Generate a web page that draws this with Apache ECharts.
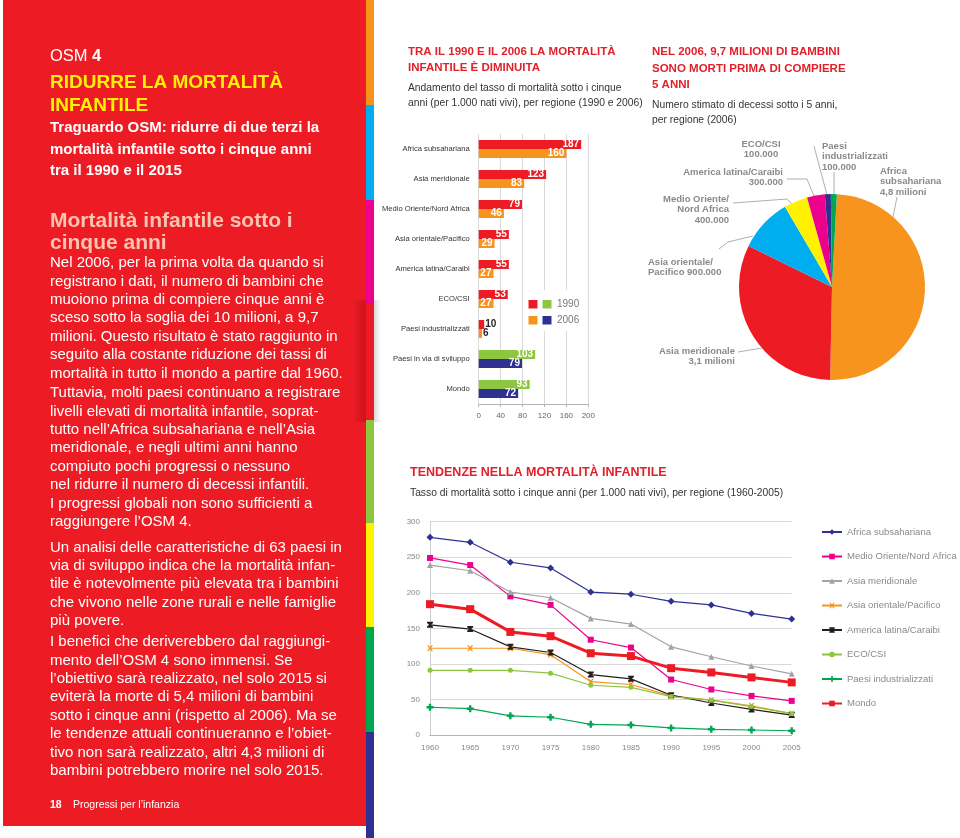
<!DOCTYPE html>
<html><head><meta charset="utf-8">
<script src="https://cdn.jsdelivr.net/npm/echarts/dist/echarts.min.js"></script>
<style>html,body{margin:0;padding:0;background:#fff}#c{width:960px;height:838px}</style>
</head><body><div id="c"></div>
<script>
// ---------- DATA ----------
const barCategories = ['Africa subsahariana','Asia meridionale','Medio Oriente/Nord Africa','Asia orientale/Pacifico','America latina/Caraibi','ECO/CSI','Paesi industrializzati','Paesi in via di sviluppo','Mondo'];
const rate1990 = [187,123,79,55,55,53,10,103,93];
const rate2006 = [160,83,46,29,27,27,6,79,72];
const barTicks = [0,40,80,120,160,200];

const pieNames = ['Africa subsahariana','Asia meridionale','Asia orientale/Pacifico','Medio Oriente/Nord Africa','America latina/Caraibi','ECO/CSI','Paesi industrializzati'];
const pieDeaths = [4800000,3100000,900000,400000,300000,100000,100000];
const pieLabels = ['Africa\nsubsahariana\n4,8 milioni','Asia meridionale\n3,1 milioni','Asia orientale/\nPacifico 900.000','Medio Oriente/\nNord Africa\n400.000','America latina/Caraibi\n300.000','ECO/CSI\n100.000','Paesi\nindustrializzati\n100.000'];

const years = ['1960','1965','1970','1975','1980','1985','1990','1995','2000','2005'];
const trendNames = ['Africa subsahariana','Medio Oriente/Nord Africa','Asia meridionale','Asia orientale/Pacifico','America latina/Caraibi','ECO/CSI','Paesi industrializzati','Mondo'];
const africaSub = [278,271,243,235,201,198,188,183,171,163];
const medioOriente = [249,239,195,183,134,123,78,64,55,48];
const asiaMerid = [239,231,201,193,164,156,124,110,97,86];
const asiaOrient = [122,122,122,113,75,71,55,49,41,30];
const americaLat = [155,149,124,116,85,79,56,45,36,28];
const ecoCsi = [91,91,91,87,70,67,54,49,40,30];
const paesiInd = [39,37,27,25,15,14,10,8,7,6];
const mondo = [184,177,145,139,115,111,94,88,81,74];
const yTicks = [0,50,100,150,200,250,300];

// ---------- STYLE ----------
const SANS = '"Liberation Sans", Arial, Helvetica, sans-serif';
const NARROW = '"Liberation Sans Narrow","Arial Narrow","Liberation Sans",sans-serif';
const RED='#ed1c24', ORANGE='#f7941d', BLUE='#00aeef', YELLOW='#fff200', MAGENTA='#ec008c', NAVY='#2e3192', DGREEN='#00a651', LGREEN='#8dc63f', BLACK='#231f20', GREY='#a3a3a3';
const HEAD='#e2202a';

function T(x, firstCenter, lines, font, fill, lh, extra){
  lh = lh || 18;
  return {type:'text', x:x, y:firstCenter - lh/2, z:100, silent:true,
    style:Object.assign({text:lines.join('\n'), font:font, fill:fill, align:'left', verticalAlign:'top', lineHeight:lh}, extra||{})};
}
function R(x,y,w,h,fill,z){ return {type:'rect', shape:{x:x,y:y,width:w,height:h}, style:{fill:fill}, z:z==null?1:z, silent:true}; }

const graphics = [
  R(3,0,363,826,RED,0),
  R(366,0,8,105,ORANGE), R(366,105,8,95,BLUE), R(366,200,8,103,MAGENTA), R(366,303,8,117,RED),
  R(366,420,8,103,LGREEN), R(366,523,8,104,YELLOW), R(366,627,8,105,DGREEN), R(366,732,8,106,NAVY),
  {type:'rect', shape:{x:352,y:300,width:14,height:122}, z:2, silent:true,
    style:{fill:{type:'linear',x:0,y:0,x2:1,y2:0,colorStops:[{offset:0,color:'rgba(120,0,0,0)'},{offset:1,color:'rgba(120,0,0,0.28)'}]}}},
  {type:'rect', shape:{x:374,y:300,width:7,height:122}, z:2, silent:true,
    style:{fill:{type:'linear',x:0,y:0,x2:1,y2:0,colorStops:[{offset:0,color:'rgba(0,0,0,0.15)'},{offset:1,color:'rgba(0,0,0,0)'}]}}},
  // left panel
  T(50,56.5,['OSM'],'16.5px '+SANS,'#fff',20),
  T(92,56.5,['4'],'bold 16.5px '+SANS,'#fff',20),
  T(50,83,['RIDURRE LA MORTALITÀ','INFANTILE'],'bold 19px '+SANS,YELLOW,23),
  T(50,128,['Traguardo OSM: ridurre di due terzi la','mortalità infantile sotto i cinque anni','tra il 1990 e il 2015'],'bold 15px '+SANS,'#fff',21.5),
  T(50,221,['Mortalità infantile sotto i','cinque anni'],'bold 21px '+SANS,'#f9c5b0',22.5),
  T(50,263,['Nel 2006, per la prima volta da quando si','registrano i dati, il numero di bambini che','muoiono prima di compiere cinque anni è','sceso sotto la soglia dei 10 milioni, a 9,7','milioni. Questo risultato è stato raggiunto in','seguito alla costante riduzione dei tassi di','mortalità in tutto il mondo a partire dal 1960.'],'15px '+SANS,'#fff',18.4),
  T(50,393,['Tuttavia, molti paesi continuano a registrare','livelli elevati di mortalità infantile, soprat-','tutto nell’Africa subsahariana e nell’Asia','meridionale, e negli ultimi anni hanno','compiuto pochi progressi o nessuno','nel ridurre il numero di decessi infantili.','I progressi globali non sono sufficienti a','raggiungere l’OSM 4.'],'15px '+SANS,'#fff',18.4),
  T(50,547.5,['Un analisi delle caratteristiche di 63 paesi in','via di sviluppo indica che la mortalità infan-','tile è notevolmente più elevata tra i bambini','che vivono nelle zone rurali e nelle famiglie','più povere.'],'15px '+SANS,'#fff',18.4),
  T(50,642,['I benefici che deriverebbero dal raggiungi-','mento dell’OSM 4 sono immensi. Se','l’obiettivo sarà realizzato, nel solo 2015 si','eviterà la morte di 5,4 milioni di bambini','sotto i cinque anni (rispetto al 2006). Ma se','le tendenze attuali continueranno e l’obiet-','tivo non sarà realizzato, altri 4,3 milioni di','bambini potrebbero morire nel solo 2015.'],'15px '+SANS,'#fff',18.4),
  T(50,805,['18'],'bold 10.5px '+SANS,'#fff',14),
  T(73,805,['Progressi per l’infanzia'],'10.5px '+SANS,'#fff',14),
  // middle headers
  T(408,51.5,['TRA IL 1990 E IL 2006 LA MORTALITÀ','INFANTILE È DIMINUITA'],'bold 11.5px '+SANS,HEAD,16.5),
  T(408,88.5,['Andamento del tasso di mortalità sotto i cinque','anni (per 1.000 nati vivi), per regione (1990 e 2006)'],'10.3px '+SANS,'#333',15),
  T(652,52,['NEL 2006, 9,7 MILIONI DI BAMBINI','SONO MORTI PRIMA DI COMPIERE','5 ANNI'],'bold 11.5px '+SANS,HEAD,16.5),
  T(652,105,['Numero stimato di decessi sotto i 5 anni,','per regione (2006)'],'10.3px '+SANS,'#333',15),
  T(410,473,['TENDENZE NELLA MORTALITÀ INFANTILE'],'bold 12.5px '+SANS,HEAD,16),
  T(410,493,['Tasso di mortalità sotto i cinque anni (per 1.000 nati vivi), per regione (1960-2005)'],'10.3px '+SANS,'#333',15),
  // bar legend box
  R(524,290,63,41,'#fff',50),
  R(528.5,300,9,8.5,RED,51), R(542.5,300,9,8.5,LGREEN,51),
  R(528.5,316,9,8.5,ORANGE,51), R(542.5,316,9,8.5,NAVY,51),
  T(557,304.5,['1990'],'10px '+SANS,'#777',12),
  T(557,320.5,['2006'],'10px '+SANS,'#777',12)
];

// pie label layout (positions/styles only)
const pieLabelPos = [
  {x:880, y:166, align:'left', pts:[[897,197],[893,217]]},
  {x:735, y:346, align:'right', pts:[[738,352],[762,348]]},
  {x:648, y:257, align:'left', pts:[[719,249],[728,242],[753,236]]},
  {x:729, y:194, align:'right', pts:[[733,203],[787,199],[794,206]]},
  {x:783, y:167, align:'right', pts:[[787,179],[807,179],[814,196]]},
  {x:761, y:139, align:'center', pts:[[814,146],[827,195]]},
  {x:822, y:141, align:'left', pts:[[834,172],[834,194]]}
];
const pieColors = [ORANGE, RED, BLUE, YELLOW, MAGENTA, NAVY, DGREEN];

const sym = {
  x:'path://M0,0 L2.5,0 L5,3 L7.5,0 L10,0 L6.5,5 L10,10 L7.5,10 L5,7 L2.5,10 L0,10 L3.5,5 Z',
  hour:'path://M0,0 L10,0 L10,2 L6.5,5 L10,8 L10,10 L0,10 L0,8 L3.5,5 L0,2 Z',
  plus:'path://M3.3,0 L6.7,0 L6.7,3.3 L10,3.3 L10,6.7 L6.7,6.7 L6.7,10 L3.3,10 L3.3,6.7 L0,6.7 L0,3.3 L3.3,3.3 Z'
};
const trendData = [africaSub, medioOriente, asiaMerid, asiaOrient, americaLat, ecoCsi, paesiInd, mondo];
const trendStyle = [
  {c:NAVY, s:'diamond', size:7, w:1.2},
  {c:MAGENTA, s:'rect', size:6, w:1.2},
  {c:GREY, s:'triangle', size:6, w:1.2},
  {c:ORANGE, s:sym.x, size:6, w:1.2},
  {c:BLACK, s:sym.hour, size:6, w:1.2},
  {c:LGREEN, s:'circle', size:5, w:1.2},
  {c:DGREEN, s:sym.plus, size:7, w:1.2},
  {c:RED, s:'rect', size:8, w:3}
];

const barLabel = {show:true, position:'insideRight', distance:2, color:'#fff', fontWeight:'bold', fontSize:10, fontFamily:SANS};
function barData(arr, colA, colB){
  return arr.map((v,i)=>{
    const d = {value:v, itemStyle:{color: i<7 ? colA : colB}};
    if (barCategories[i]==='Paesi industrializzati') d.label = {position:'right', distance:1, color:BLACK};
    return d;
  });
}

const series = [
  {type:'bar', name:'1990', xAxisIndex:0, yAxisIndex:0, data:barData(rate1990, RED, LGREEN), barWidth:9, barGap:'0%', label:barLabel, silent:true},
  {type:'bar', name:'2006', xAxisIndex:0, yAxisIndex:0, data:barData(rate2006, ORANGE, NAVY), barWidth:9, barGap:'0%', label:barLabel, silent:true},
  {type:'pie', name:'decessi', center:[832,287], radius:93, startAngle:87, clockwise:true, avoidLabelOverlap:false, silent:true,
    data: pieNames.map((n,i)=>({name:n, value:pieDeaths[i], itemStyle:{color:pieColors[i]}})),
    label:{show:true, position:'outside', formatter:p=>pieLabels[p.dataIndex], color:'#8a8a8a', fontWeight:'bold', fontSize:9.5, lineHeight:10.5, fontFamily:SANS},
    labelLine:{show:true, smooth:false, lineStyle:{color:'#9a9a9a', width:0.8}},
    labelLayout: function(p){ const L = pieLabelPos[p.dataIndex]; return {x:L.x, y:L.y, align:L.align, verticalAlign:'top', labelLinePoints:L.pts}; }
  }
];
trendNames.forEach((n,i)=>{
  const st = trendStyle[i];
  series.push({type:'line', name:n, xAxisIndex:1, yAxisIndex:1, data:trendData[i], color:st.c,
    symbol:st.s, symbolSize:st.size, showAllSymbol:true, silent:true,
    lineStyle:{color:st.c, width:st.w}, itemStyle:{color:st.c}});
});

const chart = echarts.init(document.getElementById('c'), null, {renderer:'canvas'});
chart.setOption({
  animation:false,
  backgroundColor:'#fff',
  textStyle:{fontFamily:SANS},
  graphic:graphics,
  grid:[
    {left:478.7, top:134, width:109.6, height:270},
    {left:430, top:521.7, width:361.7, height:213.3}
  ],
  xAxis:[
    {type:'value', gridIndex:0, min:barTicks[0], max:barTicks[barTicks.length-1], interval:barTicks[1]-barTicks[0],
      axisLine:{show:true, lineStyle:{color:'#b5b5b5'}}, axisTick:{show:true, length:3, lineStyle:{color:'#b5b5b5'}},
      splitLine:{show:true, lineStyle:{color:'#cfcfcf', width:0.8}},
      axisLabel:{fontSize:8, color:'#666', margin:8, fontFamily:NARROW}},
    {type:'category', gridIndex:1, data:years, boundaryGap:false,
      axisLine:{show:true, lineStyle:{color:'#b5b5b5'}}, axisTick:{show:false},
      axisLabel:{fontSize:8, color:'#888', margin:9, fontFamily:NARROW}, splitLine:{show:false}}
  ],
  yAxis:[
    {type:'category', gridIndex:0, inverse:true, data:barCategories,
      axisLine:{show:false}, axisTick:{show:false},
      axisLabel:{fontSize:7.6, color:'#333', margin:9, fontFamily:NARROW}},
    {type:'value', gridIndex:1, min:yTicks[0], max:yTicks[yTicks.length-1], interval:yTicks[1]-yTicks[0],
      axisLine:{show:true, lineStyle:{color:'#cfcfcf'}}, axisTick:{show:false},
      splitLine:{show:true, lineStyle:{color:'#cfcfcf', width:0.8}},
      axisLabel:{fontSize:8, color:'#888', margin:10, fontFamily:NARROW}}
  ],
  legend:{data:trendNames, orient:'vertical', left:816, top:522, itemWidth:20, itemHeight:7, itemGap:14.5,
    selectedMode:false, textStyle:{color:'#8a8a8a', fontSize:9.5, fontFamily:SANS}},
  series:series
});
</script></body></html>
